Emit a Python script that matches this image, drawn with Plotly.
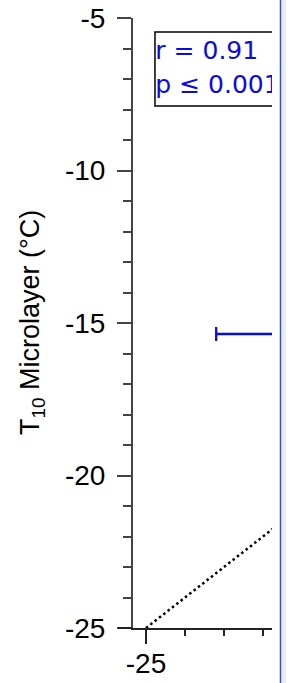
import plotly.graph_objects as go

# data
line_x = [-25, -5]
line_y = [-25, -5]
point_x = [-21.0]
point_y = [-15.36]
point_err_minus = [2.2]
stats_labels = ["r = 0.91", "p \u2264 0.001"]
stats_y = [-6.15, -7.27]
stats_x = [-24.76, -24.76]
box_x = [-24.77, -20.5]
box_y = [-7.885, -5.46]
x_tickvals = [-25, -20]
x_ticktext = ["-25", "-20"]
y_tickvals = [-25, -20, -15, -10, -5]
y_ticktext = ["-25", "-20", "-15", "-10", "-5"]
y_title = "T<sub>10</sub> Microlayer (\u00b0C)"

W, H = 291, 683
ml, mr, mt, mb = 133, 19, 18, 55
PW = W - ml - mr
TICKFONT = "Liberation Sans"
STATFONT = "DejaVu Sans"

fig = go.Figure()

# 1:1 dotted line
fig.add_trace(go.Scatter(
    x=line_x, y=line_y, mode="lines",
    line=dict(color="black", width=2.5, dash="2.5px,3px"),
    showlegend=False, hoverinfo="skip"))

# data point with horizontal error bar (point itself off-screen)
fig.add_trace(go.Scatter(
    x=point_x, y=point_y, mode="markers",
    marker=dict(color="#0a0ae6", size=8),
    error_x=dict(type="data", symmetric=False, array=[0], arrayminus=point_err_minus,
                 color="#0a0ae6", thickness=2.3, width=7),
    showlegend=False, hoverinfo="skip"))

# box around statistics (open on the right, which lies beyond the plot edge)
fig.add_trace(go.Scatter(
    x=[box_x[1], box_x[0], box_x[0], box_x[1]],
    y=[box_y[0], box_y[0], box_y[1], box_y[1]],
    mode="lines", line=dict(color="black", width=1.5),
    cliponaxis=True, showlegend=False, hoverinfo="skip"))

# statistics text (clipped at plot edge)
fig.add_trace(go.Scatter(
    x=stats_x, y=stats_y, mode="text", text=stats_labels,
    textposition="middle right",
    textfont=dict(family=STATFONT, size=25, color="#0a0ae6"),
    cliponaxis=True, showlegend=False, hoverinfo="skip"))

# x-axis line continues a little left of the y axis
fig.add_shape(type="line", xref="paper", yref="paper",
              x0=-15 / PW, x1=0, y0=0, y1=0,
              line=dict(color="#222", width=2), layer="above")

# window-edge elements on the right
fig.add_shape(type="rect", xref="paper", yref="paper",
              x0=(281 - ml) / PW, x1=(286 - ml) / PW, y0=-0.2, y1=1.2,
              fillcolor="#ececec", line=dict(width=0), layer="above")
fig.add_shape(type="line", xref="paper", yref="paper",
              x0=(280.5 - ml) / PW, x1=(280.5 - ml) / PW, y0=-0.2, y1=1.2,
              line=dict(color="#2f55d4", width=1.5), layer="above")

fig.update_layout(
    width=W, height=H,
    margin=dict(l=ml, r=mr, t=mt, b=mb, pad=0, autoexpand=False),
    paper_bgcolor="white", plot_bgcolor="white",
    font=dict(family=TICKFONT, size=28, color="black"),
    xaxis=dict(
        range=[-25 - 13 / 39, -25 + 126 / 39],
        automargin=False,
        showgrid=False, zeroline=False,
        showline=True, linecolor="#222", linewidth=2,
        ticks="outside", tickvals=x_tickvals, ticktext=x_ticktext,
        ticklen=14, tickwidth=2, tickcolor="#222",
        ticklabelstandoff=-5,
        minor=dict(ticks="outside", dtick=1, tick0=-25, ticklen=6, tickwidth=2, tickcolor="#222"),
        tickfont=dict(family=TICKFONT, size=28, color="black"),
    ),
    yaxis=dict(
        range=[-25, -5],
        automargin=False,
        showgrid=False, zeroline=False,
        showline=True, linecolor="#444", linewidth=2,
        ticks="outside", tickvals=y_tickvals, ticktext=y_ticktext,
        ticklen=14, tickwidth=2, tickcolor="#444",
        ticklabelstandoff=6,
        minor=dict(ticks="outside", dtick=1, tick0=-25, ticklen=8, tickwidth=2, tickcolor="#444"),
        tickfont=dict(family=TICKFONT, size=28, color="black"),
    ),
    annotations=[dict(
        text=y_title, xref="paper", yref="paper",
        x=(32 - ml) / PW, y=0.5, xanchor="center", yanchor="middle",
        textangle=-90, showarrow=False,
        font=dict(family=TICKFONT, size=27, color="black"))],
)

fig.write_html("out.html", config={"displayModeBar": False},
               post_script="document.body.style.margin='0px';")
